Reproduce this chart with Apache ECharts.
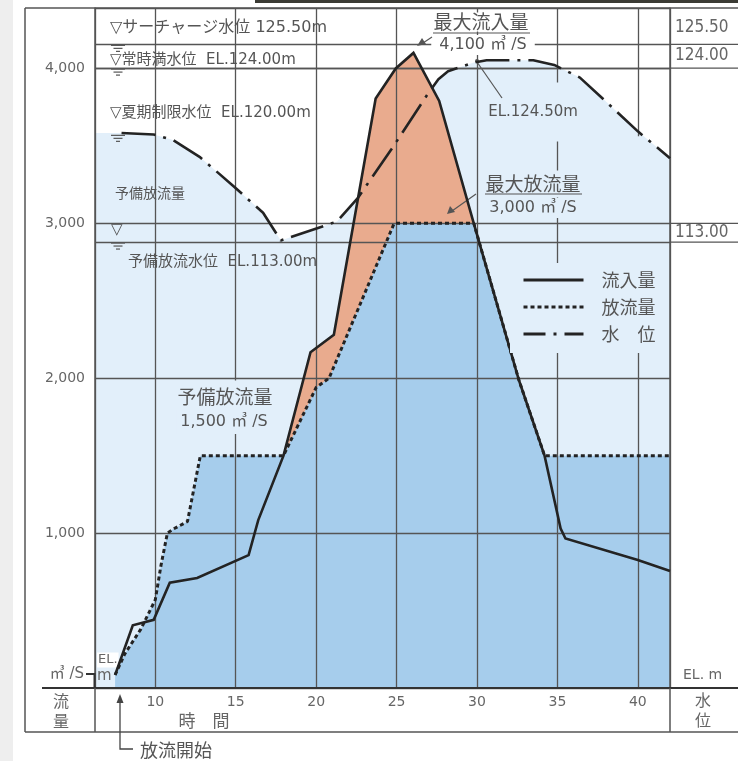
<!DOCTYPE html>
<html><head><meta charset="utf-8">
<script src="https://cdn.jsdelivr.net/npm/echarts@6/dist/echarts.min.js"></script>
<style>html,body{margin:0;padding:0;background:#fff}#c{width:738px;height:761px}</style>
</head><body><div id="c"></div><script>
// ---- data ----
const inflowHours  = [7.5, 8.6, 9.9, 10.9, 12.6, 15.8, 16.4, 17.97, 19.65, 21.1, 23.7, 24.95, 26.05, 27.65, 29.8, 32.6, 34.2, 35.2, 35.5, 40, 42];
const inflowValues = [84, 405, 440, 680, 710, 858, 1084, 1500, 2168, 2280, 3806, 4000, 4100, 3790, 3000, 1990, 1500, 1030, 965, 826, 755];
const outflowHours  = [7.5, 8.1, 9.1, 10.0, 10.35, 10.75, 11.1, 12.0, 12.8, 17.97, 20.0, 20.8, 24.85, 29.8, 32.6, 34.2, 42];
const outflowValues = [84, 220, 380, 570, 790, 1000, 1025, 1075, 1500, 1500, 1940, 2000, 3000, 3000, 1990, 1500, 1500];
const levelHours  = [7.9, 9.9, 11.1, 12.8, 14.9, 16.7, 17.8, 21.3, 22.6, 24.7, 26.9, 27.6, 28.2, 29.8, 30.6, 33.5, 34.8, 36.4, 38.0, 40.0, 42.0];
const levelValues = [119.9, 119.8, 119.45, 118.35, 116.5, 114.85, 113.1, 114.3, 115.8, 118.9, 122.3, 123.3, 123.8, 124.35, 124.5, 124.5, 124.2, 123.4, 121.9, 120.0, 118.3];
const levelMarks = [125.5, 124.0, 113.0];
const levelMarkLabels = ['125.50', '124.00', '113.00'];
const storeFrom = 17.97, storeTo = 29.8;

const xMin = 6.25, xMax = 42, yMax = 4390, lvMin = 84.8, lvMax = 127.8;
const PALE = '#e2effa', BLUE = '#a6cdec', SALMON = '#e9ab8e', GRID = '#555', INK = '#232323', TXT = '#555';
const JP = "'Noto Sans CJK JP'", LAT = "'DejaVu Sans', 'Noto Sans CJK JP'";
const CLEAR = 'rgba(0,0,0,0)';

const zip = (a, b) => a.map((v, i) => [v, b[i]]);
const inflowData = zip(inflowHours, inflowValues);
const outflowData = zip(outflowHours, outflowValues);
const levelData = zip(levelHours, levelValues);
const levelAreaData = [[xMin, levelValues[0]]].concat(levelData);
const storeData = inflowData.filter(p => p[0] >= storeFrom && p[0] <= storeTo);

const chart = echarts.init(document.getElementById('c'), null, {renderer: 'canvas'});
const option = {
  animation: false,
  backgroundColor: '#fff',
  grid: {left: 95, right: 68, top: 8, bottom: 73, containLabel: false},
  xAxis: {
    type: 'value', min: xMin, max: xMax, splitNumber: 7, z: 4,
    axisLine: {show: true, lineStyle: {color: '#333', width: 2}},
    axisTick: {show: false},
    axisLabel: {show: true, margin: 7, color: '#666', fontSize: 14, fontFamily: LAT,
      showMinLabel: false, showMaxLabel: false,
      formatter: v => (Math.abs(v % 5) < 1e-6 ? String(v) : '')},
    splitLine: {show: true, lineStyle: {color: GRID, width: 1.3}}
  },
  yAxis: [
    {type: 'value', min: 0, max: yMax, interval: 1000, z: 4.4,
      axisLine: {show: true, lineStyle: {color: GRID, width: 1.5}},
      axisTick: {show: false},
      axisLabel: {margin: 10, color: '#666', fontSize: 14, fontFamily: LAT,
        formatter: v => (v > 0 && v % 1000 === 0 ? v.toLocaleString('en-US') : '')},
      splitLine: {show: true, lineStyle: {color: GRID, width: 1.3}}},
    {type: 'value', min: lvMin, max: lvMax, position: 'right', z: 4.4,
      axisLine: {show: true, lineStyle: {color: GRID, width: 1.5}},
      axisTick: {show: false}, axisLabel: {show: false}, splitLine: {show: false}}
  ],
  legend: {
    orient: 'vertical', left: 510, top: 263, z: 7, selectedMode: false,
    padding: [8, 10, 10, 12], itemGap: 9, itemWidth: 60, itemHeight: 14,
    backgroundColor: PALE,
    itemStyle: {color: CLEAR, borderColor: CLEAR, borderWidth: 0},
    lineStyle: {width: 3},
    textStyle: {color: TXT, fontSize: 18, fontFamily: JP, padding: [0, 0, 0, 13]},
    data: [{name: '流入量'}, {name: '放流量'}, {name: '水　位', lineStyle: {type: [22, 8, 3, 8]}}]
  },
  series: [
    {name: 'levelArea', type: 'line', yAxisIndex: 1, data: levelAreaData, symbol: 'none', silent: true,
      lineStyle: {width: 0, opacity: 0}, areaStyle: {color: PALE, opacity: 1, origin: 'start'}, z: 1},
    {name: 'storeArea', type: 'line', yAxisIndex: 0, data: storeData, symbol: 'none', silent: true,
      lineStyle: {width: 0, opacity: 0}, areaStyle: {color: SALMON, opacity: 1, origin: 'start'}, z: 2},
    {name: 'releaseArea', type: 'line', yAxisIndex: 0, data: outflowData, symbol: 'none', silent: true,
      lineStyle: {width: 0, opacity: 0}, areaStyle: {color: BLUE, opacity: 1, origin: 'start'}, z: 3},
    {name: 'levelLines', type: 'line', yAxisIndex: 1, data: levelData, symbol: 'none', silent: true,
      lineStyle: {opacity: 0, width: 0}, z: 4.4,
      markLine: {symbol: 'none', silent: true, label: {show: false},
        lineStyle: {color: GRID, width: 1.3, type: 'solid'},
        data: levelMarks.map(v => ({yAxis: v}))}},
    {name: '流入量', type: 'line', yAxisIndex: 0, data: inflowData, symbol: 'none', silent: true,
      lineStyle: {color: INK, width: 2.6, join: 'miter'}, itemStyle: {color: INK}, z: 6},
    {name: '放流量', type: 'line', yAxisIndex: 0, data: outflowData, symbol: 'none', silent: true,
      lineStyle: {color: INK, width: 3, type: [4, 3]}, itemStyle: {color: INK}, z: 6},
    {name: '水　位', type: 'line', yAxisIndex: 1, data: levelData, symbol: 'none', silent: true,
      lineStyle: {color: INK, width: 2.6, type: [34, 8, 3, 8]}, itemStyle: {color: INK}, z: 6}
  ]
};
chart.setOption(option);

const Y0 = v => chart.convertToPixel({yAxisIndex: 0}, v);
const Y1 = v => chart.convertToPixel({yAxisIndex: 1}, v);
const X = v => chart.convertToPixel({xAxisIndex: 0}, v);
const gL = X(xMin), gR = X(xMax), gT = Y0(yMax), gB = Y0(0);
const W = 738, boxL = 25, boxB = 732;

const G = [];
const line = (x1, y1, x2, y2, w, c, z) => G.push({type: 'line', z: z || 5, silent: true,
  shape: {x1, y1, x2, y2}, style: {stroke: c || GRID, lineWidth: w || 1.3}});
const text = (t, x, y, o) => G.push({type: 'text', z: (o && o.z) || 5, silent: true,
  style: Object.assign({text: t, x, y, fill: TXT, fontSize: 15, fontFamily: LAT,
    align: 'left', verticalAlign: 'middle'}, o || {})});
const rect = (x, y, w, h, c, z) => G.push({type: 'rect', z: z, silent: true, shape: {x, y, width: w, height: h}, style: {fill: c}});

// page background artefacts of the scan
rect(0, 0, 13, 761, '#eeeeee', 0);
rect(255, 0, W - 255, 3, '#3b3b34', 0);

// table frame
line(boxL, gT, W, gT, 1.5);
line(boxL, gT, boxL, boxB, 1.5);
line(boxL, boxB, W, boxB, 1.5);
line(42, gB, W, gB, 2, '#333');
line(gL, gB, gL, boxB, 1.5);
line(gR, gB, gR, boxB, 1.5);
levelMarks.forEach(v => line(gR, Y1(v), W, Y1(v), 1.3));
line(gR, Y0(3000), W, Y0(3000), 1.3);

// cover of a vertical grid line (gap in the original print)
rect(X(40) - 4, Y1(120) + 5, 8, 263 - Y1(120) - 5, PALE, 4.2);

// water-surface marks (three short bars)
[125.5, 124.0, 120.0, 113.0].forEach(v => {
  const y = Y1(v) + (v === 120 ? 4 : 1);
  line(111, y, 125, y, 1.2, TXT, 5);
  line(113.5, y + 3, 122.5, y + 3, 1.2, TXT, 5);
  line(116, y + 6, 120, y + 6, 1.2, TXT, 5);
});

// left water-level annotations
text('▽サーチャージ水位 125.50m', 110, 28, {fontSize: 16});
text('▽常時満水位  EL.124.00m', 110, 60);
text('▽夏期制限水位  EL.120.00m', 110, 113);
text('予備放流量', 115, 193, {fontSize: 14, fontFamily: JP});
text('▽', 111, 230);
text('予備放流水位  EL.113.00m', 128, 262);

// right water-level column labels
const condensed = "'DejaVu Sans Condensed', 'DejaVu Sans'";
text(levelMarkLabels[0], 675, (gT + Y1(125.5)) / 2 + 1, {fontSize: 17, fontFamily: condensed, fill: '#666'});
text(levelMarkLabels[1], 675, (Y1(125.5) + Y1(124)) / 2 - 1, {fontSize: 17, fontFamily: condensed, fill: '#666'});
text(levelMarkLabels[2], 675, (Y0(3000) + Y1(113)) / 2, {fontSize: 17, fontFamily: condensed, fill: '#666'});

// peak inflow
text('最大流入量', 481, 22, {fontSize: 19, fontFamily: JP, align: 'center', backgroundColor: '#fff', padding: [0, 6, 0, 6]});
text('4,100 ㎥ /S', 483, 45, {fontSize: 16, align: 'center', backgroundColor: '#fff', padding: [2, 8, 2, 8]});
line(433, 33, 530, 33, 1.2, TXT, 6);
line(432, 37, 423, 43, 1.2, TXT, 6);
G.push({type: 'polygon', z: 6, silent: true, shape: {points: [[417, 46], [422, 38], [426, 44]]}, style: {fill: TXT}});

// max water level
text('EL.124.50m', 533, 112, {align: 'center', backgroundColor: PALE, padding: [40, 4, 4, 4]});
line(477, 62, 502, 98, 1.2, TXT, 6);
G.push({type: 'circle', z: 6, silent: true, shape: {cx: 477, cy: 61, r: 2}, style: {fill: TXT}});

// max outflow
text('最大放流量', 533, 184, {fontSize: 19, fontFamily: JP, align: 'center', backgroundColor: PALE, padding: [6, 4, 2, 4]});
text('3,000 ㎥ /S', 533, 208, {fontSize: 16, align: 'center', backgroundColor: PALE, padding: [2, 4, 2, 4]});
line(485, 194, 582, 194, 1.2, TXT, 6);
line(476, 194, 452, 211, 1.2, TXT, 6);
G.push({type: 'polygon', z: 6, silent: true, shape: {points: [[447, 214], [450, 206], [455, 212]]}, style: {fill: TXT}});

// reserve outflow
text('予備放流量', 225, 397, {fontSize: 19, fontFamily: JP, align: 'center', backgroundColor: PALE, padding: [12, 4, 2, 4]});
text('1,500 ㎥ /S', 224, 422, {fontSize: 16, align: 'center', backgroundColor: PALE, padding: [2, 4, 6, 4]});

// origin / unit labels
text('EL.', 97, 660, {fontSize: 13, backgroundColor: '#fff', padding: [1, 1, 1, 1], fill: '#666'});
text('m', 97, 676, {fontSize: 15, backgroundColor: PALE, fill: '#666'});
text('㎥ /S', 84, 674, {fontSize: 15, align: 'right', fill: '#666'});
G.push({type: 'polyline', z: 6, silent: true, shape: {points: [[86, 674], [94.5, 674], [94.5, gB]]}, style: {stroke: '#333', lineWidth: 2, fill: null}});
text('EL. m', 683, 675, {fontSize: 14, fill: '#666'});

// table cells
text('流', 61, 701, {fontSize: 16, fontFamily: JP, align: 'center', fill: '#666'});
text('量', 61, 721, {fontSize: 16, fontFamily: JP, align: 'center', fill: '#666'});
text('水', 703, 700, {fontSize: 16, fontFamily: JP, align: 'center', fill: '#666'});
text('位', 703, 720, {fontSize: 16, fontFamily: JP, align: 'center', fill: '#666'});
text('時　間', 204, 721, {fontSize: 17, fontFamily: JP, align: 'center', fill: '#666'});

// release start marker
G.push({type: 'polyline', z: 6, silent: true, shape: {points: [[120, 700], [120, 749], [133, 749]]}, style: {stroke: '#444', lineWidth: 1.3, fill: null}});
G.push({type: 'polygon', z: 6, silent: true, shape: {points: [[116.5, 703], [120, 694], [123.5, 703]]}, style: {fill: '#444'}});
text('放流開始', 140, 750, {fontSize: 18, fontFamily: JP});

chart.setOption({graphic: {elements: G}});
</script></body></html>
